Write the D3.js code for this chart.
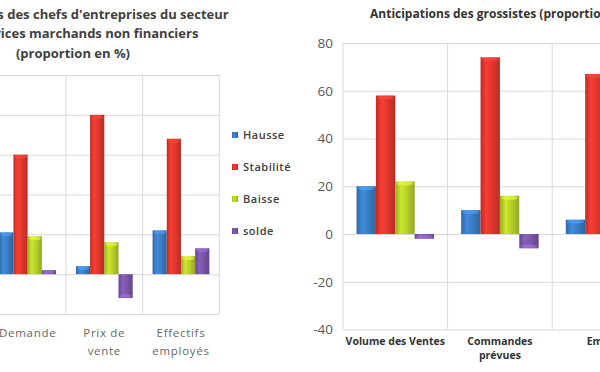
<!DOCTYPE html>
<html><head><meta charset="utf-8">
<script src="https://cdn.jsdelivr.net/npm/d3@7"></script>
<style>body{margin:0;background:#fff}svg{display:block}</style>
</head><body>
<svg id="c" width="600" height="372"></svg>
<script>
const seriesNames = ["Hausse","Stabilité","Baisse","solde"];
const seriesColors = ["#3a7cc4","#e1372e","#b7cf2a","#7a56a8"];

const leftCategories = ["Demande","Prix de vente","Effectifs employés"];
const leftLabels = [["Demande"],["Prix de","vente"],["Effectifs","employés"]];
const leftHausse = [21, 4, 22];
const leftStabilite = [60, 80, 68];
const leftBaisse = [19, 16, 9];
const leftSolde = [2, -12, 13];
const leftTicks = [-20, 0, 20, 40, 60, 80, 100];
const leftTitle = ["Anticipations des chefs d'entreprises du secteur","des services marchands non financiers","(proportion en %)"];

const rightCategories = ["Volume des Ventes","Commandes prévues","Emploi"];
const rightLabels = [["Volume des Ventes"],["Commandes","prévues"],["Emploi"]];
const rightHausse = [20, 10, 6];
const rightStabilite = [58, 74, 67];
const rightBaisse = [22, 16, 27];
const rightSolde = [-2, -6, -21];
const rightTicks = [-40, -20, 0, 20, 40, 60, 80];
const rightTitle = "Anticipations des grossistes (proportion en %)";

const svg = d3.select("#c");
const defs = svg.append("defs");
seriesColors.forEach((c, i) => {
  const g = defs.append("linearGradient").attr("id", "g" + i).attr("x1", "0").attr("x2", "1").attr("y1", "0").attr("y2", "0");
  const base = d3.color(c);
  g.append("stop").attr("offset", "0%").attr("stop-color", base.darker(0.5));
  g.append("stop").attr("offset", "30%").attr("stop-color", base.brighter(0.3));
  g.append("stop").attr("offset", "60%").attr("stop-color", base);
  g.append("stop").attr("offset", "100%").attr("stop-color", base.darker(0.6));
});

function drawChart(opts) {
  const {cats, labels, vals, ticks, xr, yr, showAxis, labelStyle} = opts;
  const x0 = d3.scaleBand().domain(cats).range(xr).padding(0);
  const x1 = d3.scaleBand().domain(seriesNames).range([0, x0.bandwidth()]).paddingInner(0).paddingOuter(0.7);
  const y = d3.scaleLinear().domain([ticks[0], ticks[ticks.length - 1]]).range(yr);
  const g = svg.append("g");
  const grid = g.append("g").attr("transform", `translate(${xr[0]},0)`)
    .call(d3.axisLeft(y).tickValues(ticks).tickSize(-(xr[1] - xr[0])).tickFormat(d => showAxis ? String(d) : ""));
  grid.select(".domain").remove();
  grid.selectAll(".tick line").attr("stroke", "#d9d9d9").attr("stroke-width", 1);
  grid.selectAll(".tick text").attr("x", -10).attr("fill", "#595959")
    .style("font-family", "'Open Sans', sans-serif").style("font-size", "13.5px");
  const bounds = cats.map(c => x0(c)).concat([xr[1]]);
  g.selectAll("line.v").data(bounds).join("line").attr("class", "v")
    .attr("x1", d => d).attr("x2", d => d).attr("y1", yr[1]).attr("y2", yr[0])
    .attr("stroke", "#d9d9d9");
  cats.forEach((c, ci) => {
    seriesNames.forEach((s, si) => {
      const v = vals[si][ci];
      const bx = x0(c) + x1(s);
      const top = y(Math.max(0, v)), bot = y(Math.min(0, v));
      g.append("rect").attr("x", bx).attr("y", top).attr("width", x1.bandwidth()).attr("height", bot - top)
        .attr("fill", `url(#g${si})`);
      g.append("ellipse").attr("cx", bx + x1.bandwidth() / 2).attr("cy", v >= 0 ? top + 2 : bot - 2)
        .attr("rx", x1.bandwidth() / 2 - 1).attr("ry", Math.min(2, (bot - top) / 2))
        .attr("fill", d3.color(seriesColors[si]).brighter(0.8)).attr("opacity", 0.6);
    });
  });
  labels.forEach((ls, ci) => {
    const cx = x0(cats[ci]) + x0.bandwidth() / 2;
    ls.forEach((t, li) => {
      g.append("text").attr("x", cx).attr("y", labelStyle.y0 + li * labelStyle.dy)
        .attr("text-anchor", "middle").attr("fill", labelStyle.fill)
        .style("font-family", "'Open Sans', sans-serif").style("font-size", labelStyle.size)
        .style("font-weight", labelStyle.weight).style("letter-spacing", labelStyle.ls)
        .text(t);
    });
  });
}

drawChart({
  cats: leftCategories, labels: leftLabels,
  vals: [leftHausse, leftStabilite, leftBaisse, leftSolde],
  ticks: leftTicks, xr: [-10.7, 219.3], yr: [314, 75], showAxis: false,
  labelStyle: {y0: 337, dy: 18, fill: "#666", size: "11.5px", weight: "400", ls: "0.7px"}
});
drawChart({
  cats: rightCategories, labels: rightLabels,
  vals: [rightHausse, rightStabilite, rightBaisse, rightSolde],
  ticks: rightTicks, xr: [343, 656.8], yr: [329.5, 43], showAxis: true,
  labelStyle: {y0: 345, dy: 13.5, fill: "#333", size: "10.5px", weight: "700", ls: "0px"}
});

leftTitle.forEach((t, i) => {
  svg.append("text").attr("x", 73).attr("y", 18.5 + i * 19.5).attr("text-anchor", "middle")
    .attr("fill", "#404040").style("font-family", "'Open Sans', sans-serif")
    .style("font-size", "13px").style("font-weight", "700").text(t);
});
svg.append("text").attr("x", 370).attr("y", 17.5).attr("fill", "#333")
  .style("font-family", "'Open Sans', sans-serif").style("font-size", "12px").style("font-weight", "700")
  .text(rightTitle);

const lg = svg.append("g");
seriesNames.forEach((s, i) => {
  const yy = 135 + i * 32;
  lg.append("rect").attr("x", 232).attr("y", yy - 3).attr("width", 6).attr("height", 6).attr("fill", `url(#g${i})`);
  lg.append("text").attr("x", 243).attr("y", yy + 4).attr("fill", "#404040")
    .style("font-family", "'Open Sans', sans-serif").style("font-size", "11px").style("font-weight", "600")
    .style("letter-spacing", "0.5px").text(s);
});
</script>
</body></html>
